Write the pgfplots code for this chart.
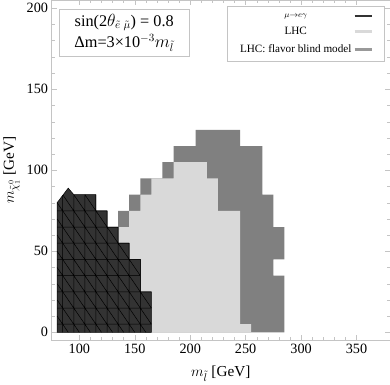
\documentclass[border=0pt]{standalone}
\usepackage{fontspec}
\setmainfont{Liberation Serif}
\usepackage{pgfplots}
\pgfplotsset{compat=1.18}
\definecolor{mueg}{HTML}{333333}
\definecolor{lhc}{HTML}{D9D9D9}
\definecolor{fbm}{HTML}{808080}
\definecolor{fbmleg}{HTML}{999999}
\definecolor{framec}{HTML}{C4C4C4}

\begin{document}
\begin{tikzpicture}
\begin{axis}[
  width=333pt, height=335pt, scale only axis,
  xmin=75, xmax=380, ymin=-5, ymax=205,
  xtick={100,150,...,350}, ytick={0,50,...,200},
  minor tick num=4,
  tick align=inside,
  axis line style={framec},
  every tick/.style={framec},
  major tick length=5pt, minor tick length=3pt,
  tick label style={font=\fontsize{14}{16}\selectfont},
  /pgf/number format/assume math mode=true,
  xlabel={$m_{\tilde l}$ [GeV]},
  ylabel={$m_{\tilde\chi^0_1}$ [GeV]},
  label style={font=\fontsize{15}{17}\selectfont},
  xlabel style={yshift=-5pt},
  legend style={at={(rel axis cs:0.985,0.982)}, anchor=north east,
    draw=framec, font=\fontsize{11}{13}\selectfont, row sep=4.5pt,
    inner xsep=11pt, inner ysep=5pt},
  legend plot pos=right,
  legend cell align=center,
]
% LHC: flavor blind model (outer region)
\addplot[fill=fbm, draw=none, forget plot] coordinates {
  (160,0) (160,25) (150,25) (150,45) (140,45) (140,55) (130,55) (130,65)
  (135,65) (135,75) (145,75) (145,85) (155,85) (155,95) (175,95) (175,105)
  (185,105) (185,115) (205,115) (205,125) (245,125) (245,115) (265,115)
  (265,85) (275,85) (275,65) (285,65) (285,45) (275,45) (275,35) (285,35)
  (285,0)} -- cycle;
% LHC
\addplot[fill=lhc, draw=none, forget plot] coordinates {
  (160,0) (160,25) (150,25) (150,45) (140,45) (140,55) (130,55) (130,65)
  (145,65) (145,75) (155,75) (155,85) (165,85) (165,95) (185,95) (185,105)
  (215,105) (215,95) (225,95) (225,75) (245,75) (245,5) (255,5) (255,0)} -- cycle;
% mu -> e gamma
\addplot[fill=mueg, draw=black, line width=0.5pt, forget plot] coordinates {
  (80,0) (80,80) (90,89) (95,85) (115,85) (115,75) (125,75) (125,65)
  (135,65) (135,55) (145,55) (145,45) (155,45) (155,25) (165,25) (165,0)} -- cycle;
% mesh of the mu -> e gamma region
\addplot[black, line width=0.5pt, forget plot, unbounded coords=jump] coordinates {
  (80,5) (165,5) (nan,nan) (80,15) (165,15) (nan,nan) (80,25) (165,25) (nan,nan)
  (80,35) (155,35) (nan,nan) (80,45) (155,45) (nan,nan) (80,55) (145,55) (nan,nan)
  (80,65) (135,65) (nan,nan) (80,75) (125,75) (nan,nan)
  (85,0) (85,84.5) (nan,nan) (95,0) (95,85) (nan,nan) (105,0) (105,85) (nan,nan)
  (115,0) (115,85) (nan,nan) (125,0) (125,75) (nan,nan) (135,0) (135,65) (nan,nan)
  (145,0) (145,55) (nan,nan) (155,0) (155,45) (nan,nan)
  (80,10) (90,0) (nan,nan) (80,20) (100,0) (nan,nan) (80,30) (110,0) (nan,nan)
  (80,40) (120,0) (nan,nan) (80,50) (130,0) (nan,nan) (80,60) (140,0) (nan,nan)
  (80,70) (150,0) (nan,nan) (80,80) (160,0) (nan,nan) (85.3,84.7) (165,5) (nan,nan)
  (95,85) (165,15) (nan,nan) (105,85) (155,35)};
\addlegendimage{mueg, line width=2.5pt}
\addlegendentry{{\fontsize{8}{10}\selectfont$\mu{\to}e\gamma$}}
\addlegendimage{lhc, line width=2.5pt}
\addlegendentry{LHC}
\addlegendimage{fbmleg, line width=2.5pt}
\addlegendentry{LHC: flavor blind model}
\node[draw=framec, fill=white, anchor=north west, align=center,
  font=\fontsize{16}{21}\selectfont, minimum width=128pt, minimum height=46pt,
  inner ysep=3pt]
  at (rel axis cs:0.022,0.973)
  {sin(2$\theta_{\tilde e\;\tilde\mu}$) = 0.8\\ Δm=3×10$^{-3}m_{\tilde l}$};
\end{axis}
\end{tikzpicture}
\end{document}
